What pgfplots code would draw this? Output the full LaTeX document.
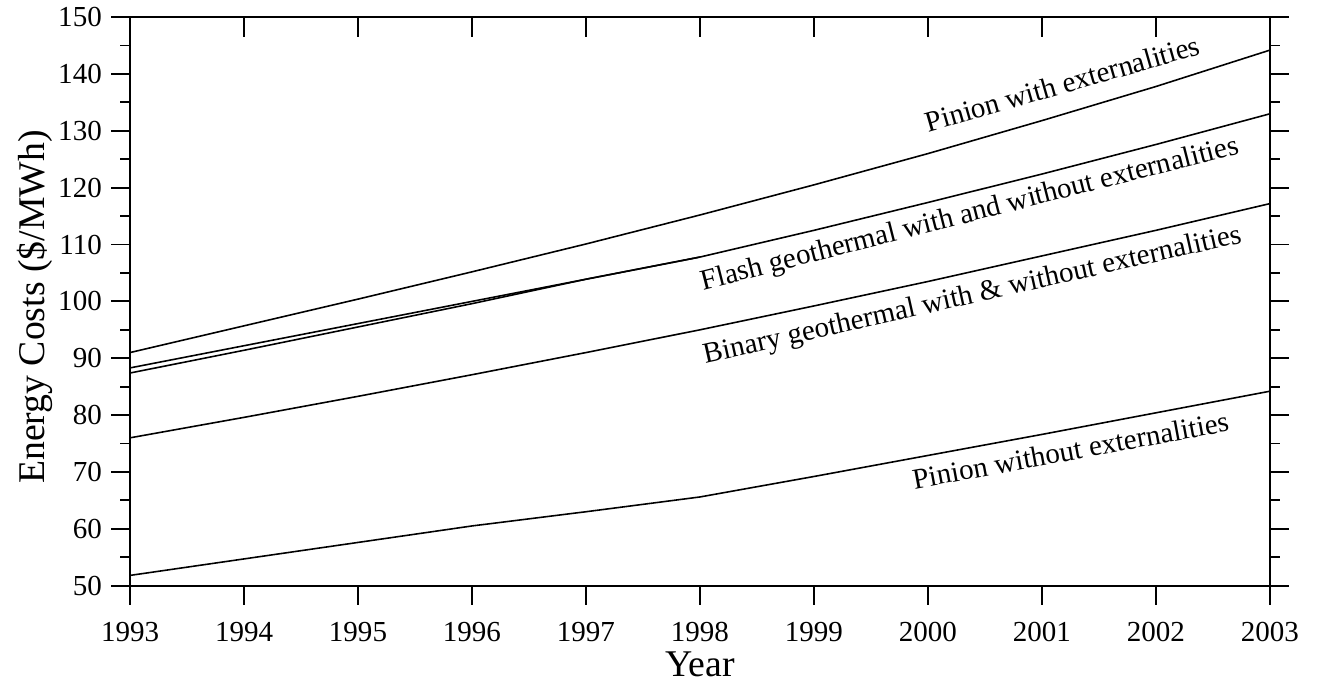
\documentclass[border=0pt]{standalone}
\usepackage{fontspec}
\setmainfont{Liberation Serif}
\usepackage{pgfplots}
\pgfplotsset{compat=1.18}
\pgfplotstableread{
x y
1993 91.0
1994 95.7
1995 100.4
1996 105.2
1997 110.1
1998 115.2
1999 120.5
2000 126.0
2001 131.8
2002 137.8
2003 144.2
}\pinionext
\pgfplotstableread{
x y
1993 88.3
1994 92.2
1995 96.1
1996 100.0
1997 103.9
1998 107.8
1999 112.5
2000 117.4
2001 122.4
2002 127.6
2003 133.0
}\flasha
\pgfplotstableread{
x y
1993 87.4
1994 91.4
1995 95.5
1996 99.6
1997 103.9
1998 107.8
}\flashb
\pgfplotstableread{
x y
1993 76.0
1994 79.6
1995 83.3
1996 87.1
1997 91.0
1998 95.0
1999 99.2
2000 103.5
2001 108.0
2002 112.5
2003 117.2
}\binary
\pgfplotstableread{
x y
1993 51.8
1994 54.7
1995 57.6
1996 60.5
1997 63.0
1998 65.6
1999 69.2
2000 72.9
2001 76.6
2002 80.4
2003 84.2
}\pinionno
\begin{document}
\begin{tikzpicture}
\begin{axis}[name=ax, scale only axis, width=432.1pt, height=215.5pt,
  xmin=1993, xmax=2003, ymin=50, ymax=150,
  xtick={1993,1994,...,2003}, ytick={50,60,...,150}, minor y tick num=1,
  xtick pos=bottom, ytick pos=both, tick align=outside,
  major tick length=7.2pt, minor tick length=3.8pt,
  /pgf/number format/1000 sep={},
  /pgf/number format/assume math mode=true,
  tick label style={font=\fontsize{11}{13}\selectfont},
  x tick label style={yshift=-3.2pt},
  every tick/.style={black, line width=0.7pt},
  axis line style={line width=0.8pt},
  xlabel={Year}, ylabel={Energy Costs (\$/MWh)},
  label style={font=\fontsize{14.3}{16}\selectfont},
  xlabel style={at={(axis description cs:0.5,-0.139)}, anchor=center},
  ylabel style={at={(axis description cs:-0.0833,0.49)}, anchor=center},
]
\addplot[black, line width=0.6pt, no marks] table[x=x,y=y] {\pinionext};
\addplot[black, line width=0.6pt, no marks] table[x=x,y=y] {\flasha};
\addplot[black, line width=0.6pt, no marks] table[x=x,y=y] {\flashb};
\addplot[black, line width=0.6pt, no marks] table[x=x,y=y] {\binary};
\addplot[black, line width=0.6pt, no marks] table[x=x,y=y] {\pinionno};
\node[rotate=16, font=\fontsize{11}{13}\selectfont] at (axis cs:2001.18,138.3) {Pinion with externalities};
\node[rotate=14.3, font=\fontsize{11}{13}\selectfont] at (axis cs:2000.37,115.2) {Flash geothermal with and without externalities};
\node[rotate=12.7, font=\fontsize{11}{13}\selectfont] at (axis cs:2000.39,100.9) {Binary geothermal with \& without externalities};
\node[rotate=10.5, font=\fontsize{11}{13}\selectfont] at (axis cs:2001.25,73.8) {Pinion without externalities};
\end{axis}
\begin{axis}[scale only axis, width=432.1pt, height=215.5pt,
  xmin=1993, xmax=2003, ymin=50, ymax=150,
  xtick={1994,1995,...,2002}, xticklabels={}, ytick=\empty,
  xtick pos=top, xtick align=inside, major tick length=7.5pt,
  every tick/.style={black, line width=0.7pt},
  axis line style={draw=none},
]
\end{axis}
\pgfresetboundingbox
\path ([shift={(-49.3pt,-37.6pt)}]ax.south west) rectangle ([shift={(18.6pt,6.5pt)}]ax.north east);
\end{tikzpicture}
\end{document}
